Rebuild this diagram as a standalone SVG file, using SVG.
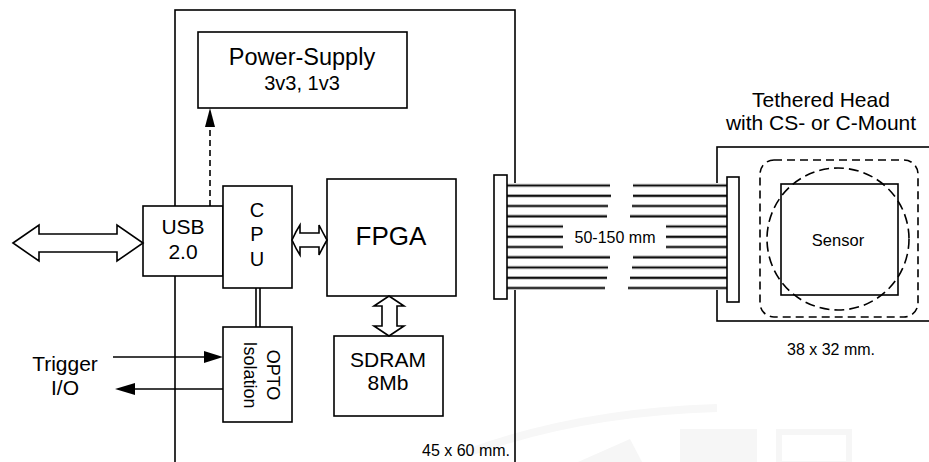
<svg xmlns="http://www.w3.org/2000/svg" width="929" height="462" viewBox="0 0 929 462">
<style>
.box{fill:#fff;stroke:#000;stroke-width:1.6}
.ln{fill:none;stroke:#000;stroke-width:1.6}
.t{font-family:"Liberation Sans",Arial,sans-serif;fill:#000;text-anchor:middle}
.wg{stroke:#a8a8a8;stroke-width:3.6}
.wb{stroke:#111;stroke-width:1.7}
.wm{fill:#f6f6f6}
</style>
<rect width="929" height="462" fill="#fff"/>
<g id="watermark">
<path d="M470,452 Q580,412 717,408" fill="none" stroke="#f7f7f7" stroke-width="8"/>
<polygon class="wm" points="578,462 630,439 642,462"/>
<rect class="wm" x="680" y="429" width="77" height="33"/>
<rect x="779" y="432" width="70" height="32" fill="none" stroke="#f6f6f6" stroke-width="6"/>
</g>
<g id="board"><rect class="ln" x="175" y="10" width="340" height="470"/>
<text class="t" x="466" y="456" font-size="16">45 x 60 mm.</text></g>
<g id="power"><rect class="box" x="198" y="32" width="209" height="76"/>
<text class="t" x="302" y="65" font-size="23.5">Power-Supply</text>
<text class="t" x="302" y="90" font-size="20">3v3, 1v3</text></g>
<g id="usb"><rect class="box" x="143" y="206" width="80" height="70"/>
<text class="t" x="183" y="234" font-size="21">USB</text>
<text class="t" x="183" y="259" font-size="21">2.0</text></g>
<g id="cpu"><rect class="box" x="223" y="186" width="69" height="102"/>
<text class="t" x="257" y="217" font-size="20">C</text>
<text class="t" x="257" y="241" font-size="20">P</text>
<text class="t" x="257" y="266" font-size="20">U</text></g>
<g id="fpga"><rect class="box" x="327" y="179" width="129" height="117"/>
<text class="t" x="391" y="245" font-size="26">FPGA</text></g>
<g id="sdram"><rect class="box" x="334" y="336" width="109" height="80"/>
<text class="t" x="388" y="367" font-size="21">SDRAM</text>
<text class="t" x="388" y="390" font-size="21">8Mb</text></g>
<g id="opto"><rect class="box" x="223" y="327" width="69" height="95"/>
<text class="t" font-size="18" transform="translate(267,375) rotate(90)">OPTO</text>
<text class="t" font-size="18" transform="translate(244,375) rotate(90)">Isolation</text></g>
<g id="trigger"><text class="t" x="65" y="371" font-size="21">Trigger</text>
<text class="t" x="65" y="395" font-size="21">I/O</text></g>
<g id="head">
<rect class="box" x="717" y="147" width="240" height="174"/>
<rect x="760" y="160" width="158" height="157" rx="14" fill="none" stroke="#000" stroke-width="1.6" stroke-dasharray="8,5"/>
<rect class="ln" x="781" y="184" width="117" height="111"/>
<circle cx="838" cy="239" r="71" fill="none" stroke="#000" stroke-width="1.6" stroke-dasharray="10,5"/>
<text class="t" x="838" y="246" font-size="16.5">Sensor</text>
<text class="t" x="821" y="107" font-size="21">Tethered Head</text>
<text class="t" x="821" y="130" font-size="21">with CS- or C-Mount</text>
<text class="t" x="831" y="355" font-size="16">38 x 32 mm.</text>
</g>
<g id="cable">
<rect x="507" y="183" width="220" height="107" fill="#fff"/>
<g class="wg">
<line x1="507" y1="185.5" x2="610" y2="185.5"/><line x1="633" y1="185.5" x2="727" y2="185.5"/>
<line x1="507" y1="195.8" x2="611" y2="195.8"/><line x1="633" y1="195.8" x2="727" y2="195.8"/>
<line x1="507" y1="206" x2="608" y2="206"/><line x1="632" y1="206" x2="727" y2="206"/>
<line x1="507" y1="216.3" x2="607" y2="216.3"/><line x1="630" y1="216.3" x2="727" y2="216.3"/>
<line x1="507" y1="226.5" x2="563" y2="226.5"/><line x1="666" y1="226.5" x2="727" y2="226.5"/>
<line x1="507" y1="236.8" x2="563" y2="236.8"/><line x1="666" y1="236.8" x2="727" y2="236.8"/>
<line x1="507" y1="247" x2="563" y2="247"/><line x1="666" y1="247" x2="727" y2="247"/>
<line x1="507" y1="257.3" x2="610" y2="257.3"/><line x1="633" y1="257.3" x2="727" y2="257.3"/>
<line x1="507" y1="267.5" x2="608" y2="267.5"/><line x1="632" y1="267.5" x2="727" y2="267.5"/>
<line x1="507" y1="277.8" x2="607" y2="277.8"/><line x1="630" y1="277.8" x2="727" y2="277.8"/>
<line x1="507" y1="288" x2="605" y2="288"/><line x1="628" y1="288" x2="727" y2="288"/>
</g>
<g class="wb">
<line x1="507" y1="185.5" x2="610" y2="185.5"/><line x1="633" y1="185.5" x2="727" y2="185.5"/>
<line x1="507" y1="195.8" x2="611" y2="195.8"/><line x1="633" y1="195.8" x2="727" y2="195.8"/>
<line x1="507" y1="206" x2="608" y2="206"/><line x1="632" y1="206" x2="727" y2="206"/>
<line x1="507" y1="216.3" x2="607" y2="216.3"/><line x1="630" y1="216.3" x2="727" y2="216.3"/>
<line x1="507" y1="226.5" x2="563" y2="226.5"/><line x1="666" y1="226.5" x2="727" y2="226.5"/>
<line x1="507" y1="236.8" x2="563" y2="236.8"/><line x1="666" y1="236.8" x2="727" y2="236.8"/>
<line x1="507" y1="247" x2="563" y2="247"/><line x1="666" y1="247" x2="727" y2="247"/>
<line x1="507" y1="257.3" x2="610" y2="257.3"/><line x1="633" y1="257.3" x2="727" y2="257.3"/>
<line x1="507" y1="267.5" x2="608" y2="267.5"/><line x1="632" y1="267.5" x2="727" y2="267.5"/>
<line x1="507" y1="277.8" x2="607" y2="277.8"/><line x1="630" y1="277.8" x2="727" y2="277.8"/>
<line x1="507" y1="288" x2="605" y2="288"/><line x1="628" y1="288" x2="727" y2="288"/>
</g>
<rect class="box" x="494" y="175" width="13" height="124"/>
<rect class="box" x="727" y="177" width="12" height="125"/>
<text class="t" x="615" y="243" font-size="16">50-150 mm</text>
</g>
<g id="connectors">
<polygon class="box" points="13,243 39,225 39,234 117,234 117,225 143,243 117,261 117,252 39,252 39,261"/>
<path class="box" d="M292,240 Q296,231 300,225 L300,233 L319,233 L319,225 Q323,233 327,240 Q323,247 319,255 L319,247 L300,247 L300,255 Q296,249 292,240 Z"/>
<polygon class="box" points="389,296 404,306 397,306 397,326 404,326 389,336 374,326 382,326 382,306 374,306"/>
<line x1="210" y1="206" x2="210" y2="126" stroke="#000" stroke-width="1.6" stroke-dasharray="6,4"/>
<polygon points="210,108 215,127 205,127" fill="#000"/>
<line class="ln" x1="256" y1="288" x2="256" y2="327"/>
<line class="ln" x1="260" y1="288" x2="260" y2="327"/>
<line class="ln" x1="113" y1="357" x2="205" y2="357"/>
<polygon points="223,357 204,351 204,363" fill="#000"/>
<line class="ln" x1="134" y1="389" x2="223" y2="389"/>
<polygon points="115,389 135,383 135,395" fill="#000"/>
</g>
</svg>
